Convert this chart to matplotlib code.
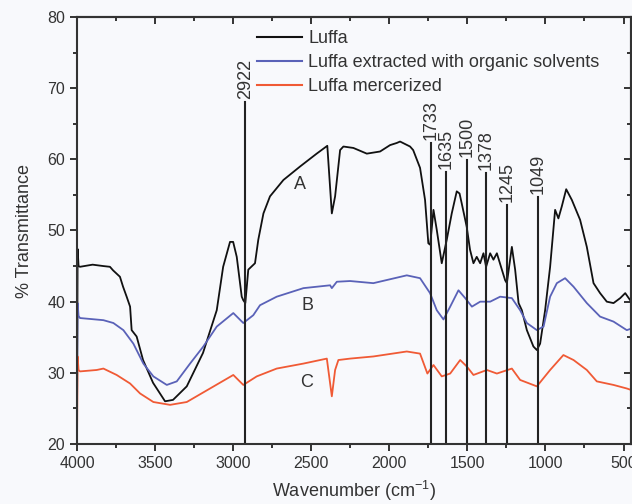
import matplotlib
matplotlib.use("Agg")
import matplotlib.pyplot as plt
from matplotlib.lines import Line2D

plt.rcParams['font.family'] = ['Liberation Sans', 'DejaVu Sans']
plt.rcParams['mathtext.fontset'] = 'custom'
plt.rcParams['mathtext.rm'] = 'Liberation Sans'
plt.rcParams['mathtext.it'] = 'Liberation Sans'

# spectrum A - luffa (wavenumber, %T)
wn_a = [4000, 3996, 3990, 3981, 3900, 3830, 3789, 3769, 3725, 3705, 3682, 3660, 3650, 3618, 3577,
        3513, 3436, 3385, 3297, 3193, 3105, 3064, 3020, 3000, 2977, 2945, 2935, 2922, 2903, 2860,
        2839, 2806, 2764, 2678, 2571, 2465, 2397, 2368, 2347, 2315, 2294, 2230, 2144, 2059, 1995,
        1952, 1931, 1867, 1847, 1803, 1771, 1750, 1738, 1717, 1696, 1664, 1632, 1600, 1568, 1550,
        1536, 1504, 1483, 1461, 1440, 1418, 1397, 1380, 1354, 1333, 1311, 1279, 1258, 1247, 1215,
        1194, 1172, 1151, 1119, 1077, 1055, 1034, 1002, 970, 938, 917, 895, 867, 831, 778, 735,
        692, 650, 607, 564, 521, 489, 457]
t_a = [23.0, 47.4, 45.0, 44.9, 45.2, 45.0, 44.9, 44.4, 43.5, 42.1, 40.7, 39.3, 36.0, 35.1, 31.8,
       28.6, 26.0, 26.2, 28.1, 32.8, 38.8, 44.9, 48.4, 48.4, 46.3, 40.7, 40.2, 39.8, 44.5, 45.4,
       48.7, 52.4, 54.8, 57.1, 59.0, 60.8, 61.9, 52.4, 54.8, 61.3, 61.8, 61.6, 60.8, 61.1, 62.0,
       62.3, 62.5, 61.8, 61.3, 58.8, 54.3, 48.2, 48.0, 52.9, 50.1, 45.4, 48.7, 52.4, 55.5, 55.2,
       53.8, 50.5, 47.3, 45.4, 46.3, 45.4, 46.8, 44.9, 46.8, 45.9, 46.8, 44.5, 43.0, 42.6, 47.7,
       44.5, 39.8, 38.8, 36.0, 33.7, 33.2, 34.1, 38.8, 44.9, 52.9, 51.7, 53.4, 55.8, 54.3, 51.5,
       47.7, 42.6, 41.2, 40.0, 39.8, 40.5, 41.2, 40.2]

# spectrum B - extracted with organic solvents
wn_b = [4000, 3996, 3990, 3981, 3831, 3767, 3703, 3639, 3575, 3511, 3425, 3361, 3276, 3191, 3105,
        2999, 2935, 2871, 2828, 2721, 2550, 2379, 2368, 2336, 2251, 2102, 1888, 1803, 1739, 1696,
        1653, 1610, 1557, 1514, 1471, 1418, 1354, 1290, 1215, 1162, 1119, 1055, 1012, 970, 927,
        874, 820, 735, 650, 564, 479, 452]
t_b = [28.0, 39.8, 38.0, 37.7, 37.4, 37.0, 36.0, 34.1, 31.3, 29.5, 28.3, 28.8, 31.3, 33.7, 36.5,
       38.4, 37.0, 38.1, 39.5, 40.7, 41.9, 42.3, 41.9, 42.8, 42.9, 42.6, 43.7, 43.3, 41.2, 38.8,
       37.5, 39.3, 41.6, 40.5, 39.3, 40.0, 40.0, 40.7, 40.5, 38.8, 37.0, 36.0, 36.5, 40.7, 42.6,
       43.3, 42.1, 39.8, 37.9, 37.2, 36.0, 36.2]

# spectrum C - mercerized
wn_c = [4000, 3996, 3990, 3981, 3874, 3831, 3746, 3660, 3596, 3511, 3404, 3297, 3148, 2999, 2935,
        2849, 2721, 2550, 2400, 2368, 2347, 2326, 2251, 2102, 1888, 1803, 1756, 1717, 1664, 1610,
        1546, 1504, 1461, 1375, 1311, 1215, 1162, 1055, 970, 885, 820, 735, 671, 564, 479, 452]
t_c = [20.0, 32.3, 30.4, 30.2, 30.4, 30.6, 29.7, 28.5, 27.1, 25.9, 25.5, 25.9, 27.8, 29.7, 28.3,
       29.5, 30.6, 31.3, 32.0, 26.7, 30.4, 31.8, 32.0, 32.3, 33.0, 32.7, 29.9, 31.1, 29.5, 29.9,
       31.8, 30.9, 29.7, 30.4, 29.9, 30.6, 29.0, 28.1, 30.4, 32.5, 31.8, 30.4, 28.8, 28.3, 27.8, 27.6]

labels = ["Luffa", "Luffa extracted with organic solvents", "Luffa mercerized"]
colors = ["#111111", "#5a62b8", "#f05a35"]

# marked bands and how high their marker lines go
peaks = [2922, 1733, 1635, 1500, 1378, 1245, 1049]
peak_tops = [68.1, 62.3, 58.2, 59.9, 58.1, 53.6, 54.7]

letters = ["A", "B", "C"]
letter_pos = [(2571, 56.4), (2527, 39.5), (2527, 28.6)]

xmajor = [4000, 3500, 3000, 2500, 2000, 1500, 1000, 500]
xminor = [3750, 3250, 2750, 2250, 1750, 1250, 750]
ymajor = [20, 30, 40, 50, 60, 70, 80]
yminor = [25, 35, 45, 55, 65, 75]

bg = "#f8f9fc"
ink = "#333333"

fig = plt.figure(figsize=(6.32, 5.04), dpi=100, facecolor=bg)
ax = fig.add_axes([77/632, 60/504, 554/632, 427/504], facecolor=bg)

ax.plot(wn_a, t_a, color=colors[0], lw=1.3)
ax.plot(wn_b, t_b, color=colors[1], lw=1.3)
ax.plot(wn_c, t_c, color=colors[2], lw=1.3)

for p, top in zip(peaks, peak_tops):
    ax.plot([p, p], [20, top], color="#222222", lw=1.5)
    ax.annotate(str(p), (p, top), xytext=(0, 2), textcoords="offset points",
                rotation=90, ha="center", va="bottom", fontsize=13, color=ink)

for s, (x, y) in zip(letters, letter_pos):
    ax.text(x, y, s, fontsize=13, color=ink, ha="center", va="center")

ax.set_xlim(4000, 452)
ax.set_ylim(20, 80)
ax.set_xticks(xmajor)
ax.set_xticks(xminor, minor=True)
ax.set_yticks(ymajor)
ax.set_yticks(yminor, minor=True)
ax.tick_params(axis="both", which="both", colors=ink, labelsize=11.5, width=1.4, direction="out")
ax.tick_params(which="major", length=5)
ax.tick_params(which="minor", length=3)
for sp in ax.spines.values():
    sp.set_color(ink)
    sp.set_linewidth(1.5)

# top and right get inward ticks only
top = ax.secondary_xaxis("top")
top.set_xticks(xmajor)
top.set_xticks(xminor, minor=True)
top.tick_params(which="both", direction="in", colors=ink, width=1.4, labeltop=False)
top.tick_params(which="major", length=5)
top.tick_params(which="minor", length=3)
right = ax.secondary_yaxis("right")
right.set_yticks(ymajor)
right.set_yticks(yminor, minor=True)
right.tick_params(which="both", direction="in", colors=ink, width=1.4, labelright=False)
right.tick_params(which="major", length=5)
right.tick_params(which="minor", length=3)
for sec in (top, right):
    for sp in sec.spines.values():
        sp.set_color(ink)
        sp.set_linewidth(1.5)

ax.set_xlabel("Wavenumber (cm$^{-1}$)", fontsize=13, color=ink, labelpad=6)
ax.set_ylabel("% Transmittance", fontsize=13, color=ink, labelpad=10)

handles = [Line2D([], [], color=c, lw=1.5) for c in colors]
fig.legend(handles, labels, loc="upper left", bbox_to_anchor=(257/632, 1 - 30/504),
           frameon=False, fontsize=13, handlelength=2.5, handletextpad=0.35,
           labelspacing=0.4, borderpad=0, borderaxespad=0, labelcolor=ink)

fig.savefig("out.png", dpi=100, facecolor=bg)
